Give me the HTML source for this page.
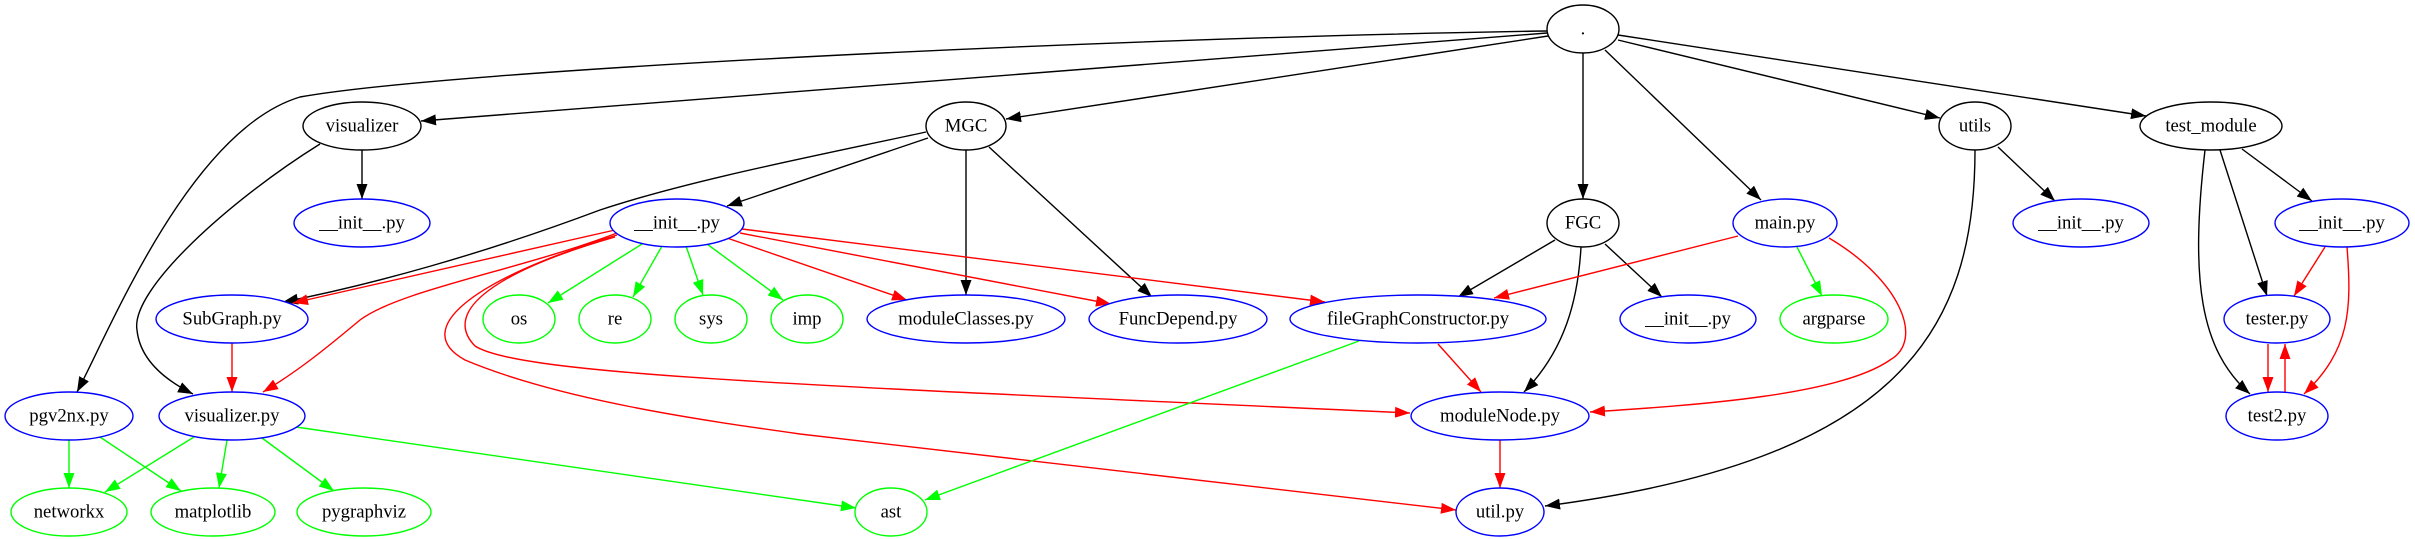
<!DOCTYPE html>
<html><head><meta charset="utf-8"><style>
html,body{margin:0;padding:0;background:#fff;}
svg{display:block}
text{font-family:"Liberation Serif",serif;font-size:18.7px;text-anchor:middle;dominant-baseline:central;fill:#000}
</style></head><body>
<svg width="2415" height="539" viewBox="0 0 2415 539" xmlns="http://www.w3.org/2000/svg">
<defs>
<marker id="ak" markerUnits="userSpaceOnUse" markerWidth="16" markerHeight="12" refX="15" refY="5.5" orient="auto"><path d="M0,0 L15,5.5 L0,11 Z" fill="#000"/></marker>
<marker id="ar" markerUnits="userSpaceOnUse" markerWidth="16" markerHeight="12" refX="15" refY="5.5" orient="auto"><path d="M0,0 L15,5.5 L0,11 Z" fill="#f00"/></marker>
<marker id="ag" markerUnits="userSpaceOnUse" markerWidth="16" markerHeight="12" refX="15" refY="5.5" orient="auto"><path d="M0,0 L15,5.5 L0,11 Z" fill="#0f0"/></marker>
</defs>
<g fill="none" stroke-width="1.4">
<g stroke="#000" marker-end="url(#ak)">
<path d="M1547,31 C1100,38 450,70 300,97 C190,130 110,330 77,392"/>
<path d="M1547,33 L421,121"/>
<path d="M1548,36 L1006,119"/>
<path d="M1583,53 L1583,199"/>
<path d="M1605,50 L1761,200"/>
<path d="M1618,40 L1940,118"/>
<path d="M1618,35 L2146,116"/>
<path d="M362,150 L362,199"/>
<path d="M320,144 C230,200 130,290 137,330 C140,360 165,380 193,394"/>
<path d="M926,132 C820,155 690,180 600,210 C480,255 370,285 283,302"/>
<path d="M928,138 L727,206"/>
<path d="M966,150 L966,295"/>
<path d="M989,147 L1152,297"/>
<path d="M1555,240 L1458,297"/>
<path d="M1581,247 C1578,300 1565,350 1524,392"/>
<path d="M1605,244 L1662,297"/>
<path d="M1998,147 L2055,201"/>
<path d="M1975,150 C1975,330 1900,460 1545,506"/>
<path d="M2242,149 L2312,201"/>
<path d="M2220,150 L2267,296"/>
<path d="M2205,150 C2190,280 2200,350 2250,394"/>
</g>
<g stroke="#f00" marker-end="url(#ar)">
<path d="M615,230 L293,303"/>
<path d="M617,233 C520,270 400,290 360,320 C330,345 300,370 263,392"/>
<path d="M615,237 C500,270 440,310 475,346 C520,375 800,385 1410,413"/>
<path d="M617,235 C470,280 410,330 465,360 C560,400 700,420 800,434 L1456,510"/>
<path d="M727,238 L907,300"/>
<path d="M740,233 L1111,304"/>
<path d="M742,229 L1325,302"/>
<path d="M232,343 L232,392"/>
<path d="M1438,344 L1481,392"/>
<path d="M1500,440 L1500,488"/>
<path d="M1738,236 L1494,298"/>
<path d="M1829,238 C1900,280 1925,340 1890,360 C1840,395 1700,405 1590,412"/>
<path d="M2325,247 L2294,296"/>
<path d="M2347,247 C2352,310 2350,350 2304,394"/>
<path d="M2268,344 L2268,392"/>
<path d="M2285,392 L2285,344"/>
</g>
<g stroke="#0f0" marker-end="url(#ag)">
<path d="M642,244 L548,303"/>
<path d="M662,246 L633,297"/>
<path d="M686,246 L703,295"/>
<path d="M707,244 L783,300"/>
<path d="M69,440 L69,488"/>
<path d="M100,437 L181,491"/>
<path d="M194,437 L105,492"/>
<path d="M227,440 L219,488"/>
<path d="M262,438 L334,491"/>
<path d="M296,427 L856,508"/>
<path d="M1359,341 L925,500"/>
<path d="M1797,247 L1822,296"/>
</g>
</g>
<g fill="#fff" stroke-width="1.4">
<g stroke="#000">
<ellipse cx="1583" cy="29" rx="36" ry="24"/>
<ellipse cx="362" cy="126" rx="59" ry="24"/>
<ellipse cx="966" cy="126" rx="40" ry="24"/>
<ellipse cx="1583" cy="223" rx="36" ry="24"/>
<ellipse cx="1975" cy="126" rx="36" ry="24"/>
<ellipse cx="2211" cy="126" rx="71" ry="24"/>
</g>
<g stroke="#00f">
<ellipse cx="362" cy="223" rx="68" ry="24"/>
<ellipse cx="677" cy="223" rx="67" ry="24"/>
<ellipse cx="232" cy="319" rx="76" ry="24"/>
<ellipse cx="69" cy="416" rx="64" ry="24"/>
<ellipse cx="232" cy="416" rx="73" ry="24"/>
<ellipse cx="966" cy="319" rx="99" ry="24"/>
<ellipse cx="1178" cy="319" rx="89" ry="24"/>
<ellipse cx="1418" cy="319" rx="128" ry="24"/>
<ellipse cx="1500" cy="416" rx="89" ry="24"/>
<ellipse cx="1500" cy="512" rx="44" ry="24"/>
<ellipse cx="1785" cy="223" rx="52" ry="24"/>
<ellipse cx="2081" cy="223" rx="68" ry="24"/>
<ellipse cx="2342" cy="223" rx="67" ry="24"/>
<ellipse cx="1688" cy="319" rx="68" ry="24"/>
<ellipse cx="2277" cy="319" rx="53" ry="24"/>
<ellipse cx="2277" cy="416" rx="51" ry="24"/>
</g>
<g stroke="#0f0">
<ellipse cx="519" cy="319" rx="36" ry="24"/>
<ellipse cx="615" cy="319" rx="36" ry="24"/>
<ellipse cx="711" cy="319" rx="36" ry="24"/>
<ellipse cx="807" cy="319" rx="36" ry="24"/>
<ellipse cx="69" cy="512" rx="58" ry="24"/>
<ellipse cx="213" cy="512" rx="62" ry="24"/>
<ellipse cx="364" cy="512" rx="67" ry="24"/>
<ellipse cx="891" cy="512" rx="36" ry="24"/>
<ellipse cx="1834" cy="319" rx="54" ry="24"/>
</g>
</g>
<g>
<text x="1583" y="29">.</text>
<text x="362" y="126">visualizer</text>
<text x="966" y="126">MGC</text>
<text x="1583" y="223">FGC</text>
<text x="1975" y="126">utils</text>
<text x="2211" y="126">test_module</text>
<text x="362" y="223">__init__.py</text>
<text x="677" y="223">__init__.py</text>
<text x="232" y="319">SubGraph.py</text>
<text x="69" y="416">pgv2nx.py</text>
<text x="232" y="416">visualizer.py</text>
<text x="966" y="319">moduleClasses.py</text>
<text x="1178" y="319">FuncDepend.py</text>
<text x="1418" y="319">fileGraphConstructor.py</text>
<text x="1500" y="416">moduleNode.py</text>
<text x="1500" y="512">util.py</text>
<text x="1785" y="223">main.py</text>
<text x="2081" y="223">__init__.py</text>
<text x="2342" y="223">__init__.py</text>
<text x="1688" y="319">__init__.py</text>
<text x="2277" y="319">tester.py</text>
<text x="2277" y="416">test2.py</text>
<text x="519" y="319">os</text>
<text x="615" y="319">re</text>
<text x="711" y="319">sys</text>
<text x="807" y="319">imp</text>
<text x="69" y="512">networkx</text>
<text x="213" y="512">matplotlib</text>
<text x="364" y="512">pygraphviz</text>
<text x="891" y="512">ast</text>
<text x="1834" y="319">argparse</text>
</g>
</svg>
</body></html>
